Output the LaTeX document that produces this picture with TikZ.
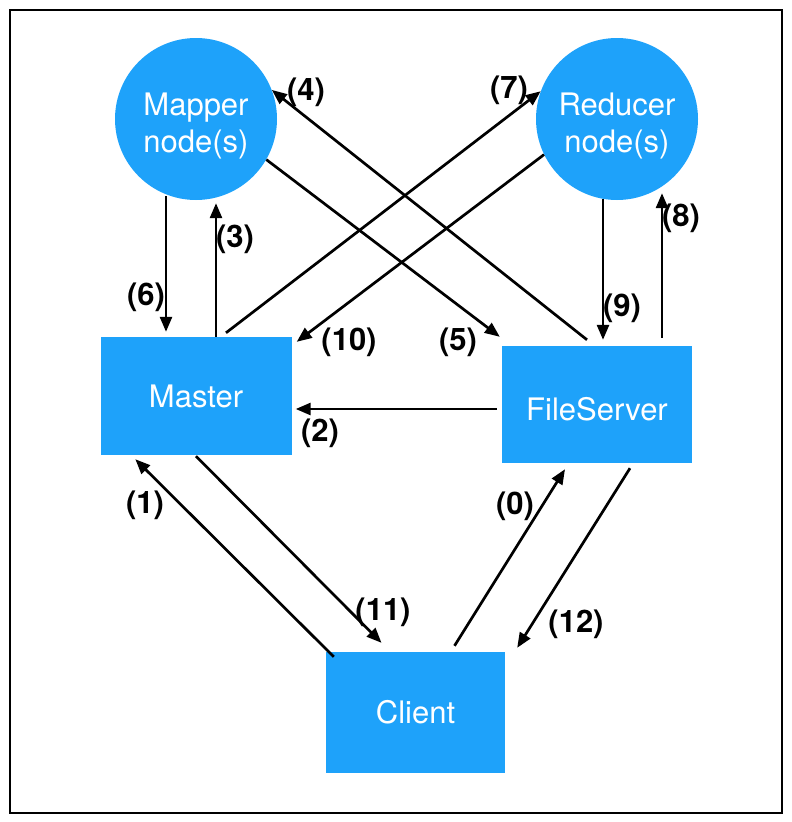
\documentclass[tikz,border=0pt]{standalone}
\usepackage{fontspec}
\setmainfont{TeX Gyre Heros}
\usepackage{xcolor}
\usetikzlibrary{arrows.meta}

\definecolor{nodeblue}{HTML}{1EA2FA}

\tikzset{
  blob/.style={circle, fill=nodeblue, minimum size=162pt, inner sep=0pt},
  blobtext/.style={text=white, align=center, inner sep=0pt, yshift=-7pt,
    font=\fontsize{31}{37}\selectfont},
  box/.style={rectangle, fill=nodeblue, text=white, inner sep=0pt,
    font=\fontsize{31}{37}\selectfont},
  arr/.style={line width=2.7pt, -{Triangle[length=15pt,width=12pt]}},
  num/.style={font=\fontsize{31}{33}\selectfont\bfseries, inner sep=0pt}
}

\begin{document}
\begin{tikzpicture}[x=1pt,y=-1pt]

% Frame
\useasboundingbox (0,0) rectangle (792,822);
\draw[line width=2.2pt] (10,10) rectangle (782,813);

% Nodes
\node[blob, label={[blobtext]center:{Mapper\\node(s)}}] (mapper) at (196,119) {};
\node[blob, label={[blobtext]center:{Reducer\\node(s)}}] (reducer) at (617,119) {};
\node[box, minimum width=191pt, minimum height=118pt] (master) at (196,396) {Master};
\node[box, minimum width=190pt, minimum height=117pt, text height=32pt, text depth=0pt] (fileserver) at (597,404.5) {FileServer};
\node[box, minimum width=179pt, minimum height=121pt] (client) at (415.5,712.5) {Client};

% Mapper <-> Master
\draw[arr] ([xshift=-30pt,yshift=4pt]mapper.south) -- ([xshift=-30pt,yshift=5pt]master.north);
\draw[arr] ([xshift=20pt]master.north) -- ([xshift=20pt,yshift=-3pt]mapper.south);

% Reducer <-> FileServer
\draw[arr] ([xshift=-14pt,yshift=1pt]reducer.south) -- ([xshift=6pt,yshift=6pt]fileserver.north);
\draw[arr] ([xshift=65pt,yshift=8pt]fileserver.north) -- ([xshift=45pt,yshift=7pt]reducer.south);

% Crossing arrows
\draw[arr] ([xshift=-10pt,yshift=6pt]fileserver.north) -- (mapper.21);
\draw[arr] (mapper.-30) -- ([xshift=-2pt,yshift=9pt]fileserver.north west);
\draw[arr] ([xshift=30pt,yshift=4pt]master.north) -- (reducer.160);
\draw[arr] (reducer.206) -- ([xshift=5pt,yshift=-5pt]master.north east);

% FileServer -> Master
\draw[arr] ([xshift=-5pt,yshift=-4.5pt]fileserver.west) -- ([xshift=4pt,yshift=-13pt]master.east);

% Client side
\draw[arr] ([xshift=8pt,yshift=-5pt]client.north west) -- ([xshift=35pt,yshift=-4pt]master.south west);
\draw[arr] ([yshift=-1pt]master.south) -- ([xshift=-34pt,yshift=9pt]client.north);
\draw[arr] ([xshift=39pt,yshift=6pt]client.north) -- ([xshift=-32pt,yshift=-6pt]fileserver.south);
\draw[arr] ([xshift=33pt,yshift=-5pt]fileserver.south) -- ([xshift=12pt,yshift=4pt]client.north east);

% Step numbers
\node[num] (n0) at (515,506) {(0)};
\node[num] (n1) at (145,505) {(1)};
\node[num] (n2) at (320,433) {(2)};
\node[num] (n3) at (235,239) {(3)};
\node[num] (n4) at (306,92) {(4)};
\node[num] (n5) at (458,342) {(5)};
\node[num] (n6) at (146,297) {(6)};
\node[num] (n7) at (509,90) {(7)};
\node[num] (n8) at (681,218) {(8)};
\node[num] (n9) at (622,308) {(9)};
\node[num] (n10) at (349,342) {(10)};
\node[num] (n11) at (383,612) {(11)};
\node[num] (n12) at (576,624) {(12)};

\end{tikzpicture}
\end{document}
